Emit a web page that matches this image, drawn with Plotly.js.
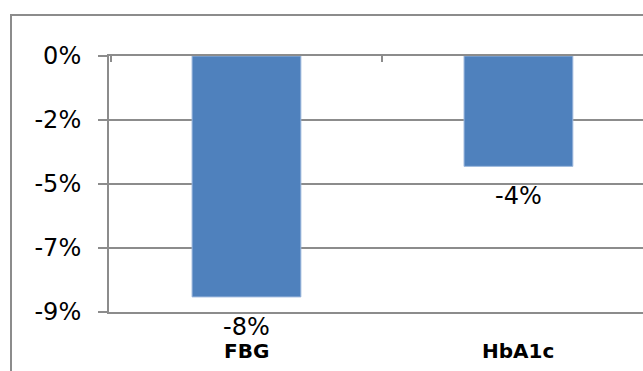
<!DOCTYPE html>
<html>
<head>
<meta charset="utf-8">
<script src="https://cdn.plot.ly/plotly-3.0.1.min.js"></script>
<style>
  html, body { margin: 0; padding: 0; background: #fff; overflow: hidden; width: 643px; height: 371px; }
  #wrap { position: relative; width: 643px; height: 371px; overflow: hidden; }
  #fl { position: absolute; left: 10px; top: 14px; width: 2px; height: 357px; background: #8c8c8c; }
  #ft { position: absolute; left: 10px; top: 14px; width: 633px; height: 2px; background: #8c8c8c; }
  #chart { position: absolute; left: 0; top: 0; width: 643px; height: 371px; }
</style>
</head>
<body>
<div id="wrap">
<div id="fl"></div>
<div id="ft"></div>
<div id="chart"></div>
</div>
<script>
// Data
const categories = ["FBG", "HbA1c"];
const changes = [-8.47, -3.88];            // percent change
const tickValues = [0, -2.25, -4.5, -6.75, -9];
const tickLabels = ["0%", "-2%", "-5%", "-7%", "-9%"];

const font = "DejaVu Sans, Verdana, sans-serif";

const trace = {
  type: "bar",
  x: categories,
  y: changes,
  width: 0.4,
  marker: { color: "#4f81bd", line: { color: "#9ab6dc", width: 1 } },
  hoverinfo: "skip"
};

const annotations = [];
categories.forEach((c, i) => {
  annotations.push({
    x: c, y: changes[i], xref: "x", yref: "y",
    text: Math.round(changes[i]) + "%",
    showarrow: false, yanchor: "top", yshift: -14,
    font: { family: font, size: 24, color: "#000" }
  });
  annotations.push({
    x: c, y: 0, xref: "x", yref: "paper",
    text: "<b>" + c + "</b>",
    showarrow: false, yanchor: "top", yshift: -25,
    font: { family: font, size: 20, color: "#000" }
  });
});

const layout = {
  width: 643, height: 371,
  margin: { l: 109, r: 0, t: 55.5, b: 58.5, pad: 0 },
  paper_bgcolor: "rgba(0,0,0,0)",
  plot_bgcolor: "rgba(0,0,0,0)",
  showlegend: false,
  xaxis: {
    type: "category",
    side: "top",
    range: [-0.5055, 1.458],
    showgrid: false, zeroline: false,
    showline: true, mirror: true, linecolor: "#8c8c8c", linewidth: 2,
    showticklabels: false,
    ticks: "inside", tickson: "boundaries", ticklen: 6, tickwidth: 2, tickcolor: "#8c8c8c",
    fixedrange: true
  },
  yaxis: {
    range: [-9, 0],
    tickmode: "array", tickvals: tickValues, ticktext: tickLabels,
    showline: true, linecolor: "#8c8c8c", linewidth: 2,
    showgrid: true, gridcolor: "#8c8c8c", gridwidth: 2,
    zeroline: false,
    ticks: "outside", ticklen: 9, tickwidth: 2, tickcolor: "#8c8c8c",
    ticklabelstandoff: 12,
    tickfont: { family: font, size: 24, color: "#000" },
    fixedrange: true
  },
  annotations: annotations
};

Plotly.newPlot("chart", [trace], layout, { displayModeBar: false, staticPlot: true });
</script>
</body>
</html>
